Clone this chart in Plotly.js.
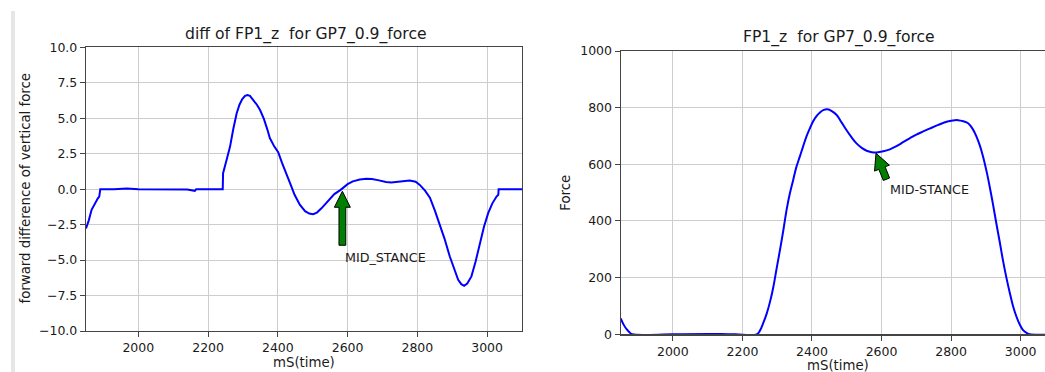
<!DOCTYPE html>
<html>
<head>
<meta charset="utf-8">
<script src="https://cdn.plot.ly/plotly-3.0.1.min.js"></script>
<style>html,body{margin:0;padding:0;background:#fff;}#chart{width:1045px;height:372px;}</style>
</head>
<body>
<div id="chart"></div>
<script>
// ---- data ----
const diffTime = [1850,1858,1866,1875,1884,1888,1890,1891,1930,1967,2000,2100,2140,2162,2166,2242,2243,2253,2263,2272,2282,2290,2298,2306,2313,2320,2330,2340,2349,2360,2370,2377,2390,2401,2412,2423,2435,2448,2463,2478,2490,2501,2512,2525,2537,2549,2562,2580,2590,2600,2615,2635,2654,2670,2690,2710,2725,2740,2760,2778,2795,2807,2822,2836,2850,2864,2878,2893,2905,2917,2926,2934,2943,2955,2967,2979,2991,3003,3015,3027,3032,3033,3100];
const diffValue = [-2.77,-2.2,-1.46,-1.0,-0.65,-0.52,-0.3,0,0,0.05,0,0,-0.03,-0.12,0,0,1.12,2.06,3.0,4.2,5.35,5.95,6.35,6.58,6.64,6.58,6.3,5.95,5.58,4.95,4.2,3.6,3.0,2.6,1.85,1.1,0.42,-0.4,-1.1,-1.55,-1.72,-1.76,-1.65,-1.35,-1.05,-0.72,-0.35,-0.05,0.15,0.35,0.55,0.68,0.73,0.72,0.62,0.5,0.47,0.5,0.58,0.61,0.52,0.3,-0.1,-0.6,-1.5,-2.5,-3.5,-4.75,-5.6,-6.39,-6.7,-6.81,-6.65,-6.15,-5.1,-3.8,-2.65,-1.69,-1.0,-0.52,-0.4,0,0];

const forceTime = [1850,1858,1867,1876,1883,2000,2100,2140,2180,2241,2250,2260,2270,2280,2289,2298,2308,2318,2327,2336,2346,2355,2365,2375,2384,2394,2403,2413,2423,2434,2444,2457,2471,2485,2499,2514,2528,2543,2557,2572,2586,2605,2624,2643,2662,2681,2700,2720,2740,2763,2787,2805,2820,2835,2849,2862,2873,2883,2892,2902,2911,2921,2930,2940,2949,2959,2969,2978,2988,2998,3007,3017,3026,3100];
const forceValue = [56,35,18,6,0,0,1,1,0,0,12,40,74,118,168,230,298,370,439,495,545,590,627,665,698,727,751,770,783,792,794,788,774,748,721,695,674,658,648,643,642,646,653,664,678,692,705,716,727,739,750,755,756,752,745,725,698,665,627,575,521,455,392,325,262,200,145,100,62,33,15,5,0,0];

const timeTicks = [2000,2200,2400,2600,2800,3000];
const diffTicks = [-10,-7.5,-5,-2.5,0,2.5,5,7.5,10];
const forceTicks = [0,200,400,600,800,1000];

// annotation points: tip of arrow and label anchor
const diffNote = {tip:[2585,-0.15], label:[2587,-4.12], text:'MID_STANCE'};
const forceNote = {tip:[2584,639], label:[2618,543], text:'MID-STANCE'};

// ---- helpers ----
const W = 1045, H = 372;
const px = v => v / W, py = v => (H - v) / H;
const textColor = '#1a1a1a';
const axisColor = '#444';
const gridColor = '#cdcdcd';
const FONT = 'DejaVu Sans, sans-serif';

// block arrow glyph (pixels, relative to tip), tail rotated by angle (deg, 0 = tail straight below)
function arrowPath(len, angleDeg) {
  const hw = 8, hl = 16, bw = 3.4;
  const pts = [[0,0],[hw,-hl],[bw,-hl],[bw,-len],[-bw,-len],[-bw,-hl],[-hw,-hl]];
  const a = angleDeg * Math.PI / 180, c = Math.cos(a), s = Math.sin(a);
  const r = pts.map(([x,y]) => [x*c - y*s, x*s + y*c]);
  return 'M' + r.map(p => p[0].toFixed(2) + ',' + p[1].toFixed(2)).join(' L') + ' Z';
}

const axisCommon = {
  showgrid: true, gridcolor: gridColor, gridwidth: 1,
  showline: true, linecolor: axisColor, linewidth: 1.2,
  ticks: 'outside', ticklen: 5, tickwidth: 1, tickcolor: axisColor,
  zeroline: false, tickfont: {family: FONT, size: 12.5, color: textColor}
};

const traces = [
  {x: diffTime, y: diffValue, xaxis: 'x', yaxis: 'y', mode: 'lines', line: {color: '#0000ff', width: 2}},
  {x: forceTime, y: forceValue, xaxis: 'x2', yaxis: 'y2', mode: 'lines', line: {color: '#0000ff', width: 2, shape: 'spline', smoothing: 1}}
];

const titleFont = {size: 15.6, family: FONT, color: textColor};
const labelFont = {size: 13.3, family: FONT, color: textColor};
const noteFont = {size: 12.7, family: FONT, color: textColor};

const layout = {
  width: W, height: H, margin: {l: 0, r: 0, t: 0, b: 0},
  paper_bgcolor: '#fff', plot_bgcolor: '#fff', showlegend: false,
  font: {family: FONT, size: 12.5, color: textColor},
  xaxis: Object.assign({}, axisCommon, {domain: [px(86), px(522)], range: [1850, 3100], tickvals: timeTicks, mirror: true, anchor: 'y'}),
  yaxis: Object.assign({}, axisCommon, {domain: [py(331), py(47.3)], range: [-10, 10], tickvals: diffTicks, tickformat: '.1f', mirror: true, anchor: 'x'}),
  xaxis2: Object.assign({}, axisCommon, {domain: [px(620.7), 1], range: [1850, 3070], tickvals: timeTicks, mirror: true, anchor: 'y2'}),
  yaxis2: Object.assign({}, axisCommon, {domain: [py(334.3), py(51)], range: [0, 1000], tickvals: forceTicks, mirror: false, anchor: 'x2'}),
  shapes: [
    {type: 'rect', xref: 'paper', yref: 'paper', x0: px(11), x1: px(15), y0: 0, y1: py(11), fillcolor: '#e6e6e6', line: {width: 0}, layer: 'below'},
    {type: 'path', xref: 'x', yref: 'y', xsizemode: 'pixel', ysizemode: 'pixel', xanchor: diffNote.tip[0], yanchor: diffNote.tip[1],
     path: arrowPath(54, 0), fillcolor: '#007f00', line: {color: '#000', width: 1}},
    {type: 'path', xref: 'x2', yref: 'y2', xsizemode: 'pixel', ysizemode: 'pixel', xanchor: forceNote.tip[0], yanchor: forceNote.tip[1],
     path: arrowPath(28, 22), fillcolor: '#007f00', line: {color: '#000', width: 1}}
  ],
  annotations: [
    {xref: 'paper', yref: 'paper', x: px(305.8), y: py(34), text: 'diff of FP1_z\u00a0 for GP7_0.9_force', showarrow: false, xanchor: 'center', yanchor: 'middle', font: titleFont},
    {xref: 'paper', yref: 'paper', x: px(839), y: py(37.7), text: 'FP1_z\u00a0 for GP7_0.9_force', showarrow: false, xanchor: 'center', yanchor: 'middle', font: titleFont},
    {xref: 'paper', yref: 'paper', x: px(25), y: py(188.5), text: 'forward difference of vertical force', textangle: -90, showarrow: false, xanchor: 'center', yanchor: 'middle', font: labelFont},
    {xref: 'paper', yref: 'paper', x: px(566), y: py(192.7), text: 'Force', textangle: -90, showarrow: false, xanchor: 'center', yanchor: 'middle', font: labelFont},
    {xref: 'paper', yref: 'paper', x: px(304), y: py(362.7), text: 'mS(time)', showarrow: false, xanchor: 'center', yanchor: 'middle', font: labelFont},
    {xref: 'paper', yref: 'paper', x: px(838), y: py(365.5), text: 'mS(time)', showarrow: false, xanchor: 'center', yanchor: 'middle', font: labelFont},
    {xref: 'x', yref: 'y', x: diffNote.label[0], y: diffNote.label[1], text: diffNote.text, showarrow: false, xanchor: 'left', yanchor: 'top', font: noteFont},
    {xref: 'x2', yref: 'y2', x: forceNote.label[0], y: forceNote.label[1], text: forceNote.text, showarrow: false, xanchor: 'left', yanchor: 'top', font: noteFont}
  ]
};

Plotly.newPlot('chart', traces, layout, {staticPlot: true, displayModeBar: false});
</script>
</body>
</html>
